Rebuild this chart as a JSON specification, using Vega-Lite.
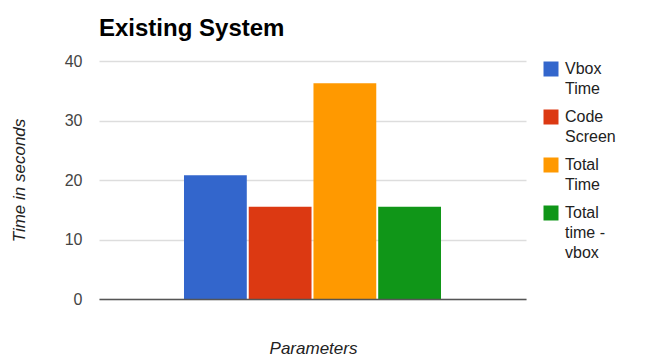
{
  "$schema": "https://vega.github.io/schema/vega-lite/v6.json",
  "autosize": "none",
  "width": 427,
  "height": 238,
  "padding": {"left": 99, "top": 61, "right": 126, "bottom": 58},
  "background": "white",
  "config": {
    "font": "Liberation Sans",
    "view": {"stroke": null}
  },
  "title": {
    "text": "Existing System",
    "anchor": "start",
    "frame": "group",
    "fontSize": 24,
    "fontWeight": "bold",
    "color": "#000000",
    "baseline": "alphabetic",
    "offset": -7,
    "font": "Liberation Sans"
  },
  "data": {
    "values": [
      {"group": "Parameters", "series": "Vbox Time", "value": 20.8},
      {"group": "Parameters", "series": "Code Screen", "value": 15.5},
      {"group": "Parameters", "series": "Total Time", "value": 36.25},
      {"group": "Parameters", "series": "Total time - vbox", "value": 15.5}
    ]
  },
  "mark": {"type": "bar"},
  "encoding": {
    "x": {
      "field": "group",
      "type": "nominal",
      "scale": {"paddingOuter": 0.3307, "paddingInner": 0},
      "axis": {
        "title": "Parameters",
        "labels": false,
        "ticks": false,
        "domain": true,
        "zindex": 2,
        "domainColor": "#555555",
        "domainWidth": 1.5,
        "titleFontStyle": "italic",
        "titleFontWeight": "normal",
        "titleFontSize": 17,
        "titleColor": "#222222",
        "titleBaseline": "alphabetic",
        "titleY": 54,
        "titleX": 214
      }
    },
    "xOffset": {
      "field": "series",
      "type": "nominal",
      "sort": ["Vbox Time", "Code Screen", "Total Time", "Total time - vbox"],
      "scale": {"paddingInner": 0.03, "paddingOuter": 0}
    },
    "y": {
      "field": "value",
      "type": "quantitative",
      "scale": {"domain": [0, 40], "nice": false},
      "axis": {
        "title": "Time in seconds",
        "values": [0, 10, 20, 30, 40],
        "domain": false,
        "ticks": false,
        "grid": true,
        "gridColor": "#dddddd",
        "gridWidth": 1.5,
        "labelFontSize": 16,
        "labelColor": "#444444",
        "labelPadding": 17,
        "titleFontStyle": "italic",
        "titleFontWeight": "normal",
        "titleFontSize": 17,
        "titleColor": "#222222",
        "titleAngle": -90,
        "titleX": -80,
        "titleY": 119,
        "titleAlign": "center",
        "titleBaseline": "middle"
      }
    },
    "color": {
      "field": "series",
      "type": "nominal",
      "scale": {
        "domain": ["Vbox Time", "Code Screen", "Total Time", "Total time - vbox"],
        "range": ["#3366cc", "#dc3912", "#ff9900", "#109618"]
      },
      "legend": {
        "title": null,
        "orient": "right",
        "offset": 17,
        "padding": 0,
        "symbolType": "square",
        "symbolSize": 225,
        "symbolStrokeWidth": 0,
        "labelFontSize": 16,
        "labelColor": "#222222",
        "labelOffset": 6,
        "rowPadding": 12,
        "labelExpr": "datum.label == 'Vbox Time' ? ['Vbox', 'Time'] : datum.label == 'Code Screen' ? ['Code', 'Screen'] : datum.label == 'Total Time' ? ['Total', 'Time'] : ['Total', 'time -', 'vbox']",
        "encode": {
          "labels": {"update": {"lineHeight": {"value": 20}}}
        }
      }
    }
  }
}
